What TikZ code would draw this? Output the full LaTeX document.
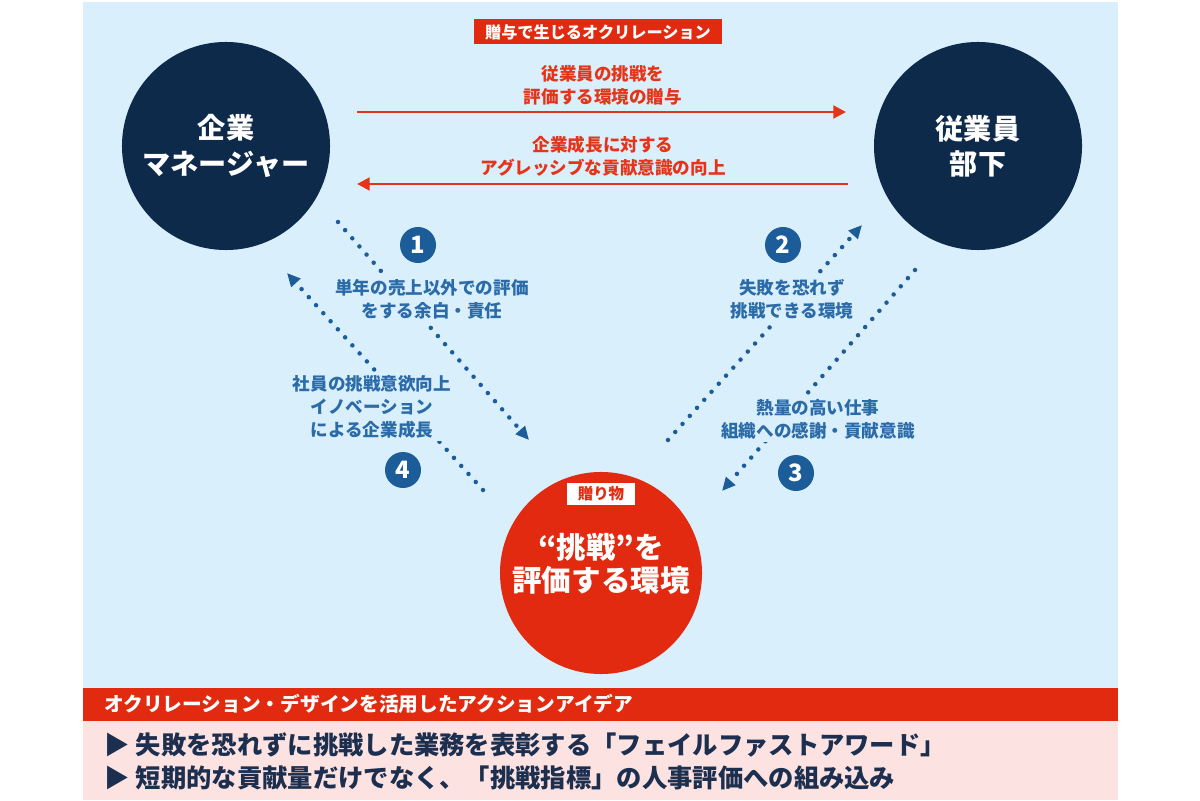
\documentclass[tikz,border=0pt]{standalone}
\usepackage{fontspec}
\setmainfont{Noto Sans CJK JP}
\usetikzlibrary{positioning, arrows.meta}

\definecolor{skyback}{HTML}{D9EFFC}
\definecolor{pinkback}{HTML}{FDE2E2}
\definecolor{navy}{HTML}{0E2A4B}
\definecolor{giftred}{HTML}{E12A10}
\definecolor{arrowred}{HTML}{E63419}
\definecolor{badgeblue}{HTML}{1B5C99}
\definecolor{textblue}{HTML}{2B6BA8}
\definecolor{bulletnavy}{HTML}{1C2F4F}

\begin{document}
\begin{tikzpicture}[x=0.025cm, y=-0.025cm,
  navycirc/.style={circle, fill=navy, text=white, minimum size=5.2cm, align=center,
    font=\bfseries\fontsize{20}{25}\selectfont},
  redcirc/.style={circle, fill=giftred, minimum size=5.05cm},
  redtext/.style={text=arrowred, align=center, font=\bfseries\fontsize{12.5}{16.4}\selectfont},
  bluetext/.style={text=textblue, fill=skyback, inner sep=2pt, align=center,
    font=\bfseries\fontsize{12.5}{16.4}\selectfont},
  numbadge/.style={circle, fill=badgeblue, text=white, minimum size=0.9cm, inner sep=0pt,
    font=\bfseries\fontsize{17}{17}\selectfont},
  redarrow/.style={draw=arrowred, line width=2.1pt, -{Triangle[length=9pt, width=9pt]}},
  dotarrow/.style={draw=badgeblue, line width=3.2pt, line cap=round,
    dash pattern=on 0pt off 7.7pt, -{Triangle[length=9.5pt, width=8.5pt]}},
  bullet/.style={anchor=west, text=bulletnavy, font=\bfseries\fontsize{18}{18}\selectfont}]

  \useasboundingbox (0,0) rectangle (1200,800);
  % panels
  \fill[skyback] (83,2) rectangle (1118,688);
  \fill[giftred] (83,688) rectangle (1118,721);
  \fill[pinkback] (83,721) rectangle (1118,800);

  % title
  \node[fill=giftred, text=white, minimum width=6.175cm, minimum height=0.625cm, inner sep=0pt,
    font=\bfseries\fontsize{11.5}{11.5}\selectfont] (title) at (598,32) {贈与で生じるオクリレーション};

  % the three circles
  \node[navycirc] (mgr) at (226,146) {企業\\マネージャー};
  \node[navycirc] (staff) at (978,146) {従業員\\部下};
  \node[redcirc] (gift) at (601,573) {};
  \node[fill=white, text=giftred, minimum width=1.72cm, minimum height=0.55cm, inner sep=0pt,
    font=\bfseries\fontsize{11}{11}\selectfont] (giftlab) at (601,494) {贈り物};
  \node[text=white, align=center, font=\bfseries\fontsize{21}{23.5}\selectfont] (gifttxt) at (601,564)
    {“挑戦”を\\評価する環境};

  % red arrows
  \coordinate (r1a) at (357,112);
  \coordinate (r1b) at (846,112);
  \coordinate (r2a) at (848,184);
  \coordinate (r2b) at (357,184);
  \draw[redarrow] (r1a) -- (r1b);
  \draw[redarrow] (r2a) -- (r2b);
  \node[redtext] (giving) at (603,85) {従業員の挑戦を\\評価する環境の贈与};
  \node[redtext] (return) at (603,156) {企業成長に対する\\アグレッシブな貢献意識の向上};

  % dotted arrows
  \coordinate (d1a) at (338,222);
  \coordinate (d1b) at (529,440);
  \coordinate (d2a) at (668,440);
  \coordinate (d2b) at (862,225);
  \coordinate (d3a) at (915,270);
  \coordinate (d3b) at (722,491);
  \coordinate (d4a) at (483,490);
  \coordinate (d4b) at (287,273);
  \draw[dotarrow] (d1a) -- (d1b);
  \draw[dotarrow] (d2a) -- (d2b);
  \draw[dotarrow] (d3a) -- (d3b);
  \draw[dotarrow] (d4a) -- (d4b);

  % numbered labels
  \node[numbadge] (n1) at (418,245) {1};
  \node[numbadge] (n2) at (783,245) {2};
  \node[numbadge] (n3) at (796,473) {3};
  \node[numbadge] (n4) at (403,470) {4};
  \node[bluetext] (t1) at (432,299) {単年の売上以外での評価\\をする余白・責任};
  \node[bluetext] (t2) at (792,299) {失敗を恐れず\\挑戦できる環境};
  \node[bluetext] (t3) at (818,419) {熱量の高い仕事\\組織への感謝・貢献意識};
  \node[bluetext] (t4) at (372,407) {社員の挑戦意欲向上\\イノベーション\\による企業成長};

  % action ideas
  \node[anchor=west, text=white, inner sep=0pt, font=\bfseries\fontsize{14}{14}\selectfont]
    (ideas) at (104,704) {オクリレーション・デザインを活用したアクションアイデア};
  \node[bullet] (idea1) at (100,745) {▶\hspace{4pt}失敗を恐れずに挑戦した業務を表彰する「フェイルファストアワード」};
  \node[bullet] (idea2) at (100,778) {▶\hspace{4pt}短期的な貢献量だけでなく、「挑戦指標」の人事評価への組み込み};
\end{tikzpicture}
\end{document}
